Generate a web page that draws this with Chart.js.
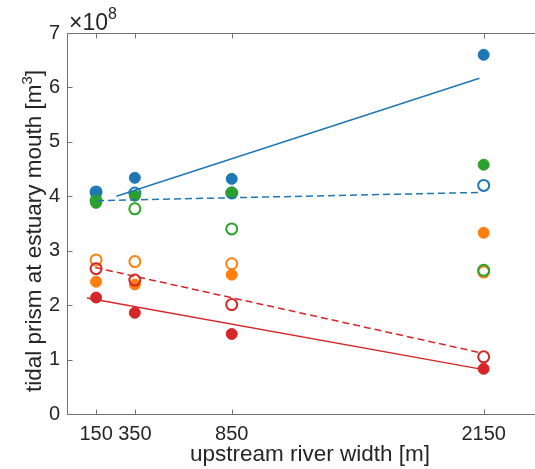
<!DOCTYPE html>
<html>
<head>
<meta charset="utf-8">
<script src="https://cdn.jsdelivr.net/npm/chart.js@4/dist/chart.umd.min.js"></script>
<style>
  html, body { margin: 0; padding: 0; background: #fff; overflow: hidden; }
  #chart { display: block; }
</style>
</head>
<body>
<canvas id="chart" width="559" height="469"></canvas>
<script>
// upstream river widths [m] used as x categories
const widths = [150, 350, 850, 2150];
const yTicks = [0, 1, 2, 3, 4, 5, 6, 7];

// tidal prism at the mouth, in units of 10^8 m^3 (filled / open markers per case)
const blueFilled   = [4.06, 4.34, 4.32, 6.60];
const blueOpen     = [4.08, 4.06, 4.06, 4.20];
const orangeFilled = [2.43, 2.38, 2.56, 3.33];
const orangeOpen   = [2.83, 2.80, 2.76, 2.61];
const greenFilled  = [3.88, 4.01, 4.07, 4.58];
const greenOpen    = [3.92, 3.77, 3.40, 2.64];
const redFilled    = [2.14, 1.86, 1.47, 0.83];
const redOpen      = [2.67, 2.46, 2.01, 1.05];

// fitted trend lines: [x, y] end points
const blueFitX  = [255, 2128];
const blueFitY  = [4.00, 6.17];
const blueDashX = [155, 2121];
const blueDashY = [3.92, 4.07];
const redFitX   = [103, 2143];
const redFitY   = [2.13, 0.82];
const redDashX  = [146, 2128];
const redDashY  = [2.69, 1.13];

const BLUE = '#1f77b4', ORANGE = '#ff7f0e', GREEN = '#2ca02c', RED = '#d62728';
const TEXT = '#262626', AXIS = '#707070';
const FONT = "'Liberation Sans', Arial, sans-serif";
const TICK = 5;
const LABEL_SIZE = 22.5;

const pts = (ys) => ys.map((v, i) => ({ x: widths[i], y: v }));
const line = (xs, ys) => xs.map((x, i) => ({ x, y: ys[i] }));

function filled(data, color, order) {
    return { data: pts(data), order, showLine: false, clip: false, backgroundColor: color, borderColor: color,
        pointRadius: 5.5, pointBorderWidth: 1, pointHoverRadius: 5.5 };
}
function open(data, color, order) {
    return { data: pts(data), order, showLine: false, clip: false, backgroundColor: 'rgba(0,0,0,0)', borderColor: color,
        pointRadius: 5.5, pointBorderWidth: 2, pointHoverRadius: 5.5 };
}
function fit(xs, ys, color, dashed) {
    return { data: line(xs, ys), order: 0, showLine: true, clip: false, borderColor: color, borderWidth: 1.5,
        borderDash: dashed ? [7, 4] : [], pointRadius: 0, fill: false };
}

// draw text runs with optional superscripts, left to right from x
function drawRuns(ctx, runs, x, y) {
    runs.forEach(r => {
        ctx.font = r.sup ? `15px ${FONT}` : `${LABEL_SIZE}px ${FONT}`;
        ctx.fillText(r.text, x, r.sup ? y - 9 : y);
        x += ctx.measureText(r.text).width;
    });
}
function runsWidth(ctx, runs) {
    return runs.reduce((w, r) => {
        ctx.font = r.sup ? `15px ${FONT}` : `${LABEL_SIZE}px ${FONT}`;
        return w + ctx.measureText(r.text).width;
    }, 0);
}

const boxPlugin = {
    id: 'boxAxes',
    afterDraw(chart) {
        const { ctx, scales: { x, y } } = chart;
        // frame follows the data mapping of both scales
        const left = Math.round(x.getPixelForValue(x.min)) + 0.5;
        const right = Math.round(x.getPixelForValue(x.max)) + 0.5;
        const top = Math.round(y.getPixelForValue(y.max)) + 0.5;
        const bottom = Math.round(y.getPixelForValue(y.min)) + 0.5;
        ctx.save();
        ctx.strokeStyle = AXIS;
        ctx.lineWidth = 1;
        ctx.beginPath();
        ctx.moveTo(left, top); ctx.lineTo(right, top); ctx.lineTo(right, bottom);
        ctx.lineTo(left, bottom); ctx.closePath();
        widths.forEach(v => {
            const px = Math.round(x.getPixelForValue(v)) + 0.5;
            ctx.moveTo(px, bottom); ctx.lineTo(px, bottom - TICK);
            ctx.moveTo(px, top); ctx.lineTo(px, top + TICK);
        });
        yTicks.forEach(v => {
            const py = Math.round(y.getPixelForValue(v)) + 0.5;
            ctx.moveTo(left, py); ctx.lineTo(left + TICK, py);
            ctx.moveTo(right, py); ctx.lineTo(right - TICK, py);
        });
        ctx.stroke();

        ctx.fillStyle = TEXT;
        ctx.textBaseline = 'alphabetic';
        ctx.textAlign = 'left';

        // x axis title
        const xRuns = [{ text: 'upstream river width [m]' }];
        drawRuns(ctx, xRuns, (left + right) / 2 - runsWidth(ctx, xRuns) / 2, 461);

        // y axis title, rotated
        const yRuns = [{ text: 'tidal prism at estuary mouth [m' }, { text: '3', sup: true }, { text: ']' }];
        ctx.save();
        ctx.translate(41, (top + bottom) / 2 + 7);
        ctx.rotate(-Math.PI / 2);
        drawRuns(ctx, yRuns, -runsWidth(ctx, yRuns) / 2, 0);
        ctx.restore();

        // exponent marker above the y axis
        ctx.font = `23px ${FONT}`;
        ctx.fillText('\u00d710', 69, 30);
        const w = ctx.measureText('\u00d710').width;
        ctx.font = `16px ${FONT}`;
        ctx.fillText('8', 69 + w, 19);
        ctx.restore();
    }
};

new Chart(document.getElementById('chart'), {
    type: 'scatter',
    data: {
        datasets: [
            fit(blueFitX, blueFitY, BLUE, false),
            fit(blueDashX, blueDashY, BLUE, true),
            fit(redFitX, redFitY, RED, false),
            fit(redDashX, redDashY, RED, true),
            filled(redFilled, RED, 1),
            open(redOpen, RED, 2),
            filled(greenFilled, GREEN, 3),
            open(greenOpen, GREEN, 4),
            filled(orangeFilled, ORANGE, 5),
            open(orangeOpen, ORANGE, 6),
            filled(blueFilled, BLUE, 7),
            open(blueOpen, BLUE, 8)
        ]
    },
    options: {
        responsive: false,
        animation: false,
        layout: { padding: { top: 33, right: 5, left: 0, bottom: 0 } },
        plugins: { legend: { display: false }, tooltip: { enabled: false } },
        scales: {
            x: {
                type: 'linear', min: 0, max: 2500,
                grid: { display: false, drawTicks: false }, border: { display: false },
                afterBuildTicks: (s) => { s.ticks = widths.map(v => ({ value: v })); },
                afterFit: (s) => { s.height = 55; s.paddingLeft = 0; s.paddingRight = 0; },
                ticks: { autoSkip: false, maxRotation: 0, padding: 8, color: TEXT,
                    font: { family: FONT, size: 20 }, callback: (v) => String(v) }
            },
            y: {
                min: 0, max: 7,
                grid: { display: false, drawTicks: false }, border: { display: false },
                afterBuildTicks: (s) => { s.ticks = yTicks.map(v => ({ value: v })); },
                afterFit: (s) => { s.width = 67; s.paddingTop = 0; s.paddingBottom = 0; },
                ticks: { padding: 7, color: TEXT, font: { family: FONT, size: 20 } }
            }
        }
    },
    plugins: [boxPlugin]
});
</script>
</body>
</html>
